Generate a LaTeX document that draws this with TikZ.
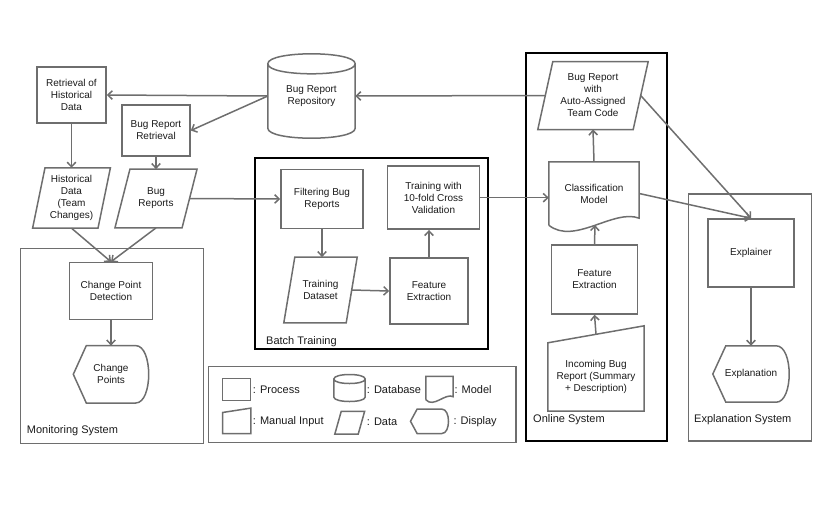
\documentclass[tikz,border=0pt]{standalone}
\usepackage{fontspec}
\setmainfont{Liberation Sans}
\usetikzlibrary{arrows.meta,calc}
\definecolor{shapegray}{HTML}{6E6E6E}
\definecolor{textgray}{HTML}{1A1A1A}

\newcommand{\datashape}[2]{%
  \draw [line] ($(#1.south west)+(-#2,0)$) -- ($(#1.north west)+(#2,0)$)
    -- ($(#1.north east)+(#2,0)$) -- ($(#1.south east)+(-#2,0)$) -- cycle;}
\newcommand{\dbshape}[2]{%
  \draw [line] ($(#1.north west)+(0,#2)$) -- ($(#1.south west)+(0,-#2)$)
    .. controls +(0,{1.333*#2}) and +(0,{1.333*#2}) .. ($(#1.south east)+(0,-#2)$)
    -- ($(#1.north east)+(0,#2)$)
    .. controls +(0,{-1.333*#2}) and +(0,{-1.333*#2}) .. ($(#1.north west)+(0,#2)$)
    .. controls +(0,{1.333*#2}) and +(0,{1.333*#2}) .. ($(#1.north east)+(0,#2)$);}
\newcommand{\docshape}[2]{%
  \draw [line] (#1.south west) -- (#1.north west) -- (#1.north east) -- ($(#1.south east)+(0,-#2)$)
    .. controls ($(#1.south east)!0.28!(#1.south west)+(0,{-2.4*#2})$)
    and ($(#1.south west)!0.28!(#1.south east)+(0,{2.9*#2})$) .. (#1.south west);}
\newcommand{\manualshape}[2]{%
  \draw [line] (#1.south west) -- (#1.north west) -- ($(#1.north east)+(0,-#2)$)
    -- (#1.south east) -- cycle;}
\newcommand{\dispshape}[3]{%
  \draw [line] ($(#1.north west)+(#2,0)$) -- ($(#1.north east)+(-#3,0)$)
    .. controls ($(#1.north east)+({0.333*#3},0)$) and ($(#1.south east)+({0.333*#3},0)$)
    .. ($(#1.south east)+(-#3,0)$) -- ($(#1.south west)+(#2,0)$) -- (#1.west) -- cycle;}

\begin{document}
\begin{tikzpicture}[x=1pt,y=-1pt,
    >={Straight Barb[length=4.5pt,width=8.5pt]},
    every node/.style={font=\fontsize{10}{12}\selectfont, text=textgray, align=center},
    process/.style={draw=shapegray, line width=1.5pt, rectangle, inner sep=2pt},
    plain/.style={inner sep=0pt},
    lbl/.style={inner sep=0pt, anchor=west, font=\fontsize{11}{13}\selectfont},
    line/.style={draw=shapegray, line width=1.5pt},
    sysbox/.style={draw=black, line width=2pt},
    groupbox/.style={draw=shapegray, line width=1.5pt}]
  \useasboundingbox (0,0) rectangle (830,504);

  \draw [groupbox] (20.7,248.3) rectangle (203.3,443.3);
  \draw [sysbox] (255,158.3) rectangle (488.3,349.3);
  \draw [sysbox] (526,53.3) rectangle (666.7,441);
  \draw [groupbox] (688.3,194) rectangle (811.7,441);
  \draw [groupbox] (208.3,366.7) rectangle (516,442.3);
  \node [lbl] (mlab) at (26.7,430.7) {Monitoring System};
  \node [lbl] (blab) at (266,341.7) {Batch Training};
  \node [lbl] (olab) at (533,420) {Online System};
  \node [lbl] (elab) at (694,420) {Explanation System};

  \node [process, minimum width=69, minimum height=56] (rh) at (71.5,95) {Retrieval of\\Historical\\Data};
  \node [process, minimum width=68, minimum height=51] (br) at (156,130.5) {Bug Report\\Retrieval};
  \node [plain, minimum width=65, minimum height=60] (hd) at (71.5,198) {Historical\\Data\\(Team\\Changes)};
  \datashape{hd}{6.2}
  \node [plain, minimum width=66.7, minimum height=58.4] (bugs) at (156,198.5) {Bug\\Reports};
  \datashape{bugs}{7.5}
  \node [plain, minimum width=87, minimum height=84] (repo) at (311.5,96) {Bug Report\\Repository};
  \dbshape{repo}{10}
  \node [process, minimum width=83, minimum height=57] (cpd) at (111,291) {Change Point\\Detection};
  \node [plain, minimum width=75, minimum height=57] (cp) at (111,374.3) {Change\\Points};
  \dispshape{cp}{13}{13}

  \node [process, minimum width=82, minimum height=59] (fb) at (322,199) {Filtering Bug\\Reports};
  \node [process, minimum width=92, minimum height=63] (tv) at (433.5,197.7) {Training with\\10-fold Cross\\Validation};
  \node [plain, minimum width=62, minimum height=65.4] (td) at (320.5,290) {Training\\Dataset};
  \datashape{td}{5.5}
  \node [process, minimum width=78, minimum height=66] (fe) at (429,291) {Feature\\Extraction};

  \node [plain, minimum width=95, minimum height=67.6] (ra) at (593,95.5) {Bug Report\\with\\Auto-Assigned\\Team Code};
  \datashape{ra}{7.5}
  \node [plain, minimum width=90, minimum height=63] (cm) at (594,193.5) {Classification\\Model};
  \docshape{cm}{7}
  \coordinate (cmb) at (595,225);
  \node [process, minimum width=86, minimum height=69] (fo) at (594.5,279.5) {Feature\\Extraction};
  \node [plain, minimum width=96, minimum height=68] (in) at (596,377) {Incoming Bug\\Report (Summary\\+ Description)};
  \manualshape{in}{17}
  \coordinate (int) at ($(in.north)+(0,-8.5)$);

  \node [process, minimum width=86, minimum height=68] (ex) at (751,253) {Explainer};
  \node [plain, minimum width=76, minimum height=56] (en) at (751,374) {Explanation};
  \dispshape{en}{13}{13}

  \node [process, minimum width=28, minimum height=22.4, inner sep=0pt] (lp) at (236.7,389.5) {};
  \node [lbl] (lpt) at (252.7,389.5) {: Process};
  \node [plain, minimum width=31, minimum height=26.6] (ld) at (349.5,388) {};
  \dbshape{ld}{4.5}
  \node [lbl] (ldt) at (366.7,389.5) {: Database};
  \node [plain, minimum width=27, minimum height=23] (lm) at (439.5,388) {};
  \docshape{lm}{3}
  \node [lbl] (lmt) at (454.3,389.5) {: Model};
  \node [plain, minimum width=28, minimum height=20.6] (lmi) at (236.7,423) {};
  \manualshape{lmi}{4.4}
  \node [lbl] (lmit) at (252.7,422) {: Manual Input};
  \node [plain, minimum width=23, minimum height=22.3] (lda) at (349.7,422.8) {};
  \datashape{lda}{3.2}
  \node [lbl] (ldat) at (366.7,422) {: Data};
  \node [plain, minimum width=37.6, minimum height=24] (ldi) at (429.5,421.3) {};
  \dispshape{ldi}{6.6}{6.6}
  \node [lbl] (ldit) at (453.3,422) {: Display};

  \draw [line, ->] (ra.west) to (repo.east);
  \draw [line, ->] (repo.west) to (rh.east);
  \draw [line, ->] (repo.west) to (br.east);
  \draw [line, ->] (rh.south) to (hd.north);
  \draw [line, ->] (br.south) to (bugs.north);
  \draw [line, ->] (bugs.east) to (fb.west);
  \draw [line, ->] (hd.south) to (cpd.north);
  \draw [line, ->] (bugs.south) to (cpd.north);
  \draw [line, ->] (cpd.south) to (cp.north);
  \draw [line, ->] (fb.south) to (td.north -| fb.south);
  \draw [line, ->] (td.east) to (fe.west);
  \draw [line, ->] (fe.north) to (fe.north |- tv.south);
  \draw [line, ->] (tv.east) to (tv.east -| cm.west);
  \draw [line, ->] (cm.north) to (ra.south);
  \draw [line, ->] (fo.north) to (cmb);
  \draw [line, ->] (int) to (fo.south);
  \draw [line, ->] (cm.east) to (ex.north);
  \draw [line, ->] (ra.east) to (ex.north);
  \draw [line, ->] (ex.south) to (en.north);
\end{tikzpicture}
\end{document}
